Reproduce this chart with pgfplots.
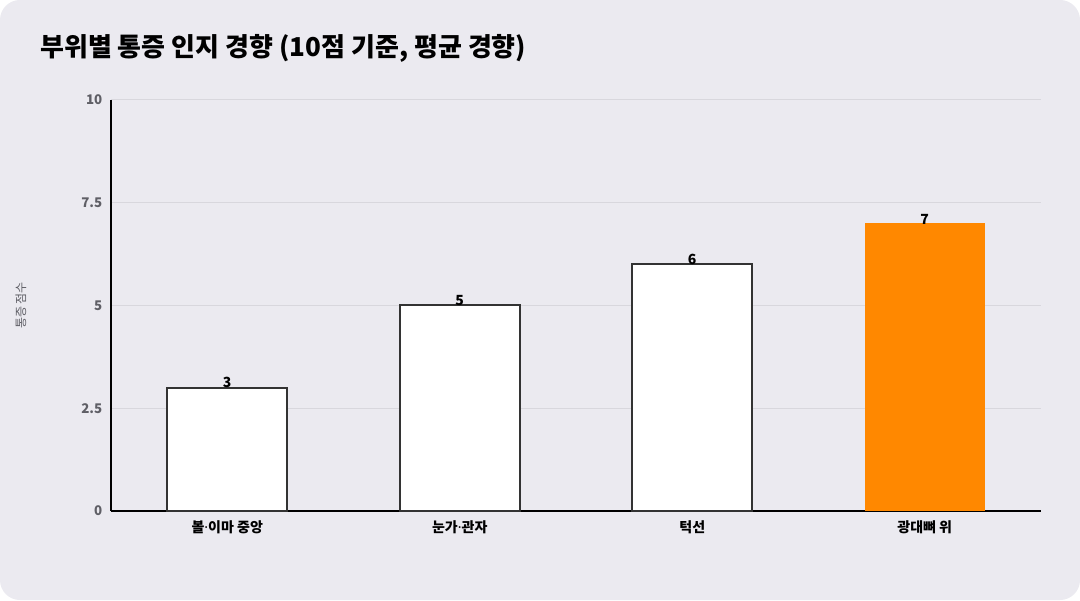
\documentclass[border=0pt]{standalone}
\usepackage{fontspec}
\setmainfont{Noto Sans CJK KR}
\newfontfamily\dotfont{Noto Sans}
\newcommand\md{{\dotfont ·}}
\usepackage{pgfplots}
\pgfplotsset{compat=1.18}

\definecolor{cardbg}{HTML}{EBEAF0}
\definecolor{gridc}{HTML}{D8D7DD}
\definecolor{tickc}{HTML}{5F5F66}
\definecolor{barline}{HTML}{333333}
\definecolor{hilite}{HTML}{FF8800}

\begin{document}
\begin{tikzpicture}[x=0.75pt,y=0.75pt]
% card, 1080 x 600 px
\fill[white] (0,0) rectangle (1080,600);
\fill[cardbg, rounded corners=15pt] (0,0) rectangle (1080,600);
\node[anchor=west, inner sep=0pt, font=\bfseries\fontsize{19.5}{22}\selectfont] at (40,552)
  {부위별 통증 인지 경향 (10점 기준, 평균 경향)};

\begin{axis}[
    at={(111*0.75pt,89*0.75pt)}, anchor=south west,
    scale only axis,
    width=697.5pt, height=308.25pt,
    xmin=-0.5, xmax=3.5,
    ymin=0, ymax=10,
    axis x line*=bottom, axis y line*=left,
    axis line style={black, line width=1.6pt},
    x axis line style={-}, y axis line style={-},
    xtick={0,1,2,3},
    xticklabels={볼\md 이마 중앙, 눈가\md 관자, 턱선, 광대뼈 위},
    ytick={0,2.5,5,7.5,10},
    yticklabels={0,2.5,5,7.5,10},
    major tick length=0pt,
    ymajorgrids=true,
    grid style={gridc, line width=0.75pt},
    xticklabel style={font=\bfseries\fontsize{10.5}{12}\selectfont, text=black, yshift=-4pt},
    yticklabel style={font=\bfseries\fontsize{10}{11}\selectfont, text=tickc, xshift=-3pt},
    /pgf/number format/assume math mode=true,
    ylabel={통증 점수},
    ylabel style={font=\fontsize{9}{10}\selectfont, text=tickc, at={(axis description cs:-0.086,0.5)}},
    ybar, bar width=0.516,
    nodes near coords,
    every node near coord/.append style={font=\bfseries\fontsize{10.5}{11}\selectfont, text=black, inner sep=0pt, yshift=-1pt},
    clip=false,
]
\addplot[fill=white, draw=barline, line width=1.5pt, bar shift=0]
    coordinates {(0,3) (1,5) (2,6)};
\addplot[fill=hilite, draw=none, bar shift=0]
    coordinates {(3,7)};
\end{axis}
\end{tikzpicture}
\end{document}
